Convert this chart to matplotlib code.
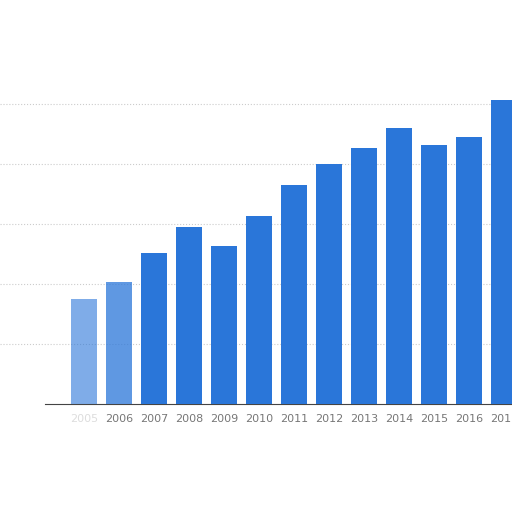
import numpy as np
import matplotlib.pyplot as plt

# years and values (in gridline units x100)
years = [2005, 2006, 2007, 2008, 2009, 2010, 2011, 2012, 2013, 2014, 2015, 2016, 2017]
values = [175, 203, 252, 295, 263, 313, 365, 400, 427, 460, 432, 445, 507]
tick_labels = [str(y) for y in years]

fig = plt.figure(figsize=(5.12, 5.12), dpi=100)
ax = fig.add_axes([0, 108 / 512, 1, 1 - 108 / 512])

bars = ax.bar(years, values, width=0.72, color='#2a76d9', zorder=3)
# the left-most bars look washed out in the reference
bars[0].set_alpha(0.6)
bars[1].set_alpha(0.75)

ax.set_xlim(2002.6, 2017.23)
ax.set_ylim(0, 673)
ax.set_yticks([100, 200, 300, 400, 500])
ax.yaxis.grid(True, linestyle=':', color='#cccccc', linewidth=0.8, zorder=0)
ax.set_yticklabels([])
ax.tick_params(axis='y', length=0)

ax.set_xticks(years)
ax.set_xticklabels(tick_labels, fontsize=8, color='#777777')
ax.get_xticklabels()[0].set_color('#dddddd')
ax.tick_params(axis='x', length=0, pad=7)

for s in ['top', 'right', 'left']:
    ax.spines[s].set_visible(False)
ax.spines['bottom'].set_color('#444444')
ax.spines['bottom'].set_bounds(2003.9, 2017.23)

fig.savefig('out.png', dpi=100)
